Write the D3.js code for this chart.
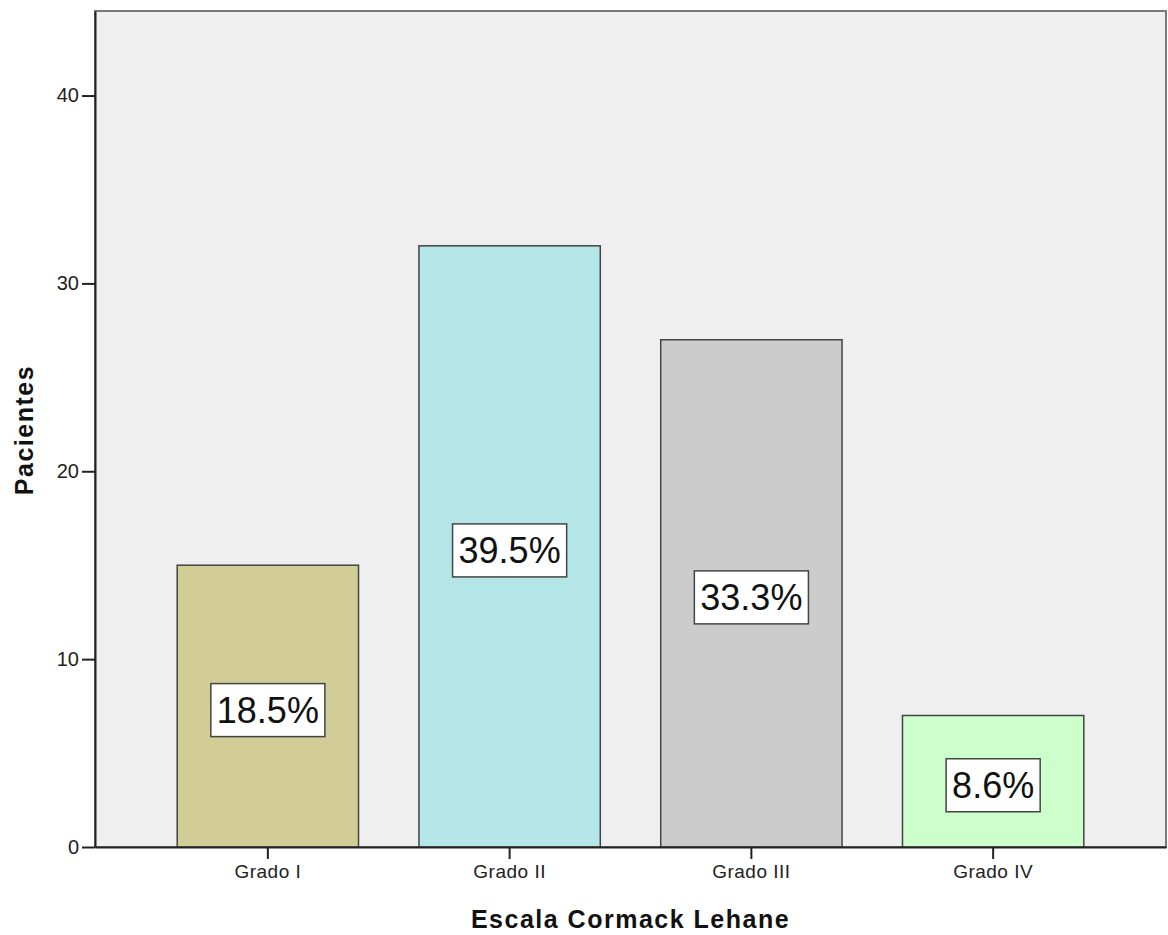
<!DOCTYPE html>
<html>
<head>
<meta charset="utf-8">
<script src="https://cdn.jsdelivr.net/npm/d3@7"></script>
<style>
  body { margin: 0; background: #fff; }
  text { font-family: Arial, 'Liberation Sans', sans-serif; }
</style>
</head>
<body>
<div id="chart"></div>
<script>
const categories = ['Grado I', 'Grado II', 'Grado III', 'Grado IV']
const counts = [15, 32, 27, 7]
const percentLabels = ['18.5%', '39.5%', '33.3%', '8.6%']
const barColors = ['#d2cd96', '#b4e6e7', '#cccccc', '#ccffcc']
const yTicks = [0, 10, 20, 30, 40]

const margin = { top: 11, left: 95, right: 2, bottom: 88 }
const width = 1168 - margin.left - margin.right
const height = 935 - margin.top - margin.bottom

const svg = d3
  .select('#chart')
  .append('svg')
  .attr('width', width + margin.left + margin.right)
  .attr('height', height + margin.top + margin.bottom)
  .append('g')
  .attr('transform', `translate(${margin.left},${margin.top})`)

const x = d3
  .scaleBand()
  .domain(categories)
  .range([0, width])
  .paddingInner(0.25)
  .paddingOuter(0.34)

const y = d3.scaleLinear().domain([0, 44.5]).range([height, 0])

// plot background
svg
  .append('rect')
  .attr('width', width)
  .attr('height', height)
  .attr('fill', '#efefef')
  .attr('stroke', '#7a7a7a')
  .attr('stroke-width', 2)

const bars = svg
  .selectAll('.bar')
  .data(categories)
  .enter()
  .append('g')
  .attr('class', 'bar')

bars
  .append('rect')
  .attr('x', d => x(d))
  .attr('width', x.bandwidth())
  .attr('y', (d, i) => y(counts[i]))
  .attr('height', (d, i) => height - y(counts[i]))
  .attr('fill', (d, i) => barColors[i])
  .attr('stroke', '#444')
  .attr('stroke-width', 1.5)

// percentage labels in white boxes
bars.each(function(d, i) {
  const g = d3.select(this)
  const cx = x(d) + x.bandwidth() / 2
  const cy = y(counts[i] / 2) + 4
  const t = g
    .append('text')
    .text(percentLabels[i])
    .attr('x', cx)
    .attr('y', cy)
    .attr('text-anchor', 'middle')
    .attr('dominant-baseline', 'central')
    .attr('font-size', 36)
    .attr('fill', '#111')
  const w = t.node().getComputedTextLength() + 12
  g.insert('rect', 'text')
    .attr('x', cx - w / 2)
    .attr('y', cy - 26.5)
    .attr('width', w)
    .attr('height', 53)
    .attr('fill', '#fff')
    .attr('stroke', '#444')
    .attr('stroke-width', 1.5)
})

// axes
const yAxis = svg
  .append('g')
  .call(
    d3
      .axisLeft(y)
      .tickValues(yTicks)
      .tickSize(13)
      .tickSizeOuter(0)
      .tickPadding(3)
  )
yAxis.select('.domain').attr('stroke', '#222').attr('stroke-width', 2)
yAxis.selectAll('.tick line').attr('stroke', '#222').attr('stroke-width', 2)
yAxis.selectAll('.tick text').attr('font-size', 20).attr('fill', '#222')

const xAxis = svg
  .append('g')
  .attr('transform', `translate(0,${height})`)
  .call(d3.axisBottom(x).tickSize(12).tickPadding(6).tickSizeOuter(0))
xAxis.select('.domain').attr('stroke', '#222').attr('stroke-width', 2)
xAxis.selectAll('.tick line').attr('stroke', '#222').attr('stroke-width', 2)
xAxis
  .selectAll('.tick text')
  .attr('font-size', 19)
  .attr('letter-spacing', 0.5)
  .attr('fill', '#222')

// axis titles
svg
  .append('text')
  .text('Escala Cormack Lehane')
  .attr('x', width / 2)
  .attr('y', height + 81)
  .attr('text-anchor', 'middle')
  .attr('font-size', 25)
  .attr('font-weight', 'bold')
  .attr('letter-spacing', 1.5)
  .attr('fill', '#111')

svg
  .append('text')
  .text('Pacientes')
  .attr('transform', `translate(${-62},${419}) rotate(-90)`)
  .attr('text-anchor', 'middle')
  .attr('font-size', 25)
  .attr('font-weight', 'bold')
  .attr('letter-spacing', 1.5)
  .attr('fill', '#111')
</script>
</body>
</html>
